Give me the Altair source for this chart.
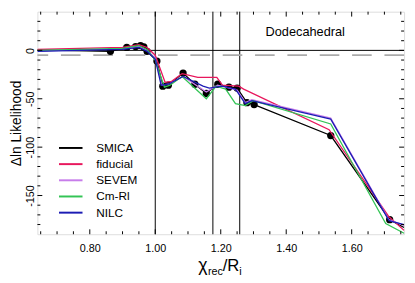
import altair as alt
import pandas as pd

FONT = "Liberation Sans"
W, H = 374, 227

series_names = ["SMICA", "fiducial", "SEVEM", "Cm-Rl", "NILC"]
series_colors = ["#000000", "#e8175d", "#c77dea", "#33c455", "#1c1cb4"]

smica_x = [0.64, 0.863, 0.913, 0.94, 0.955, 0.965, 0.975, 1.005, 1.023, 1.040, 1.085, 1.121, 1.156, 1.191, 1.225, 1.25, 1.28, 1.302, 1.536, 1.716, 1.76]
smica_y = [0.5, -1, 3, 4, 5, 3.5, -1, -11, -37, -36, -23.5, -35, -44.5, -35, -38, -39, -54, -56, -88, -175, -183]

fid_x = [0.64, 0.90, 0.95, 0.975, 1.0, 1.03, 1.05, 1.082, 1.13, 1.188, 1.205, 1.255, 1.27, 1.531, 1.714, 1.76]
fid_y = [1, 3, 6, 3, -5, -33, -32, -24, -28, -28, -36, -37, -40, -82, -172, -186]

sevem_x = [0.64, 0.90, 0.95, 0.975, 1.0, 1.02, 1.04, 1.085, 1.156, 1.19, 1.215, 1.25, 1.275, 1.295, 1.536, 1.714, 1.76]
sevem_y = [-0.5, 1.5, 4, 0, -8, -36, -35, -27, -43, -36, -38, -41, -54, -51, -70, -175, -181]

cmrl_x = [0.64, 0.90, 0.95, 0.975, 1.0, 1.028, 1.045, 1.082, 1.156, 1.186, 1.215, 1.245, 1.275, 1.299, 1.536, 1.704, 1.76]
cmrl_y = [0, 2, 5, 1, -10, -38, -36, -27, -50, -37, -40, -55, -57, -52, -76, -179, -189]

nilc_x = [0.64, 0.90, 0.95, 0.975, 1.0, 1.018, 1.04, 1.085, 1.146, 1.165, 1.205, 1.245, 1.275, 1.295, 1.536, 1.714, 1.76]
nilc_y = [-1, 1, 3, -1, -9, -36, -35, -27, -37, -39, -37, -40, -55, -52, -71, -176, -180]

dots_x = [0.863, 0.913, 0.94, 0.955, 0.965, 0.975, 1.005, 1.023, 1.040, 1.085, 1.121, 1.156, 1.191, 1.225, 1.25, 1.28, 1.302, 1.536, 1.716]
dots_y = [-1, 3, 4, 5, 3.5, -1, -11, -37, -36, -23.5, -35, -44.5, -35, -38, -39, -54, -56, -88, -175]

vlines_x = [1.0, 1.176, 1.258]
hline_y = [0]
dashed_y = [-5]

x_major = [0.8, 1.0, 1.2, 1.4, 1.6]
x_minor = [0.65, 0.70, 0.75, 0.85, 0.90, 0.95, 1.05, 1.10, 1.15, 1.25, 1.30, 1.35, 1.45, 1.50, 1.55, 1.65, 1.70, 1.75]
y_major = [-150, -100, -50, 0]
y_minor = [-180, -170, -160, -140, -130, -120, -110, -90, -80, -70, -60, -40, -30, -20, -10, 10, 20, 30]

xs = [smica_x, fid_x, sevem_x, cmrl_x, nilc_x]
ys = [smica_y, fid_y, sevem_y, cmrl_y, nilc_y]
rows = []
for name, sx, sy in zip(series_names, xs, ys):
    for i, (a, b) in enumerate(zip(sx, sy)):
        rows.append({"series": name, "x": a, "y": b, "i": i})
df = pd.DataFrame(rows)

xscale = alt.Scale(domain=[0.64, 1.76], nice=False, zero=False)
yscale = alt.Scale(domain=[-190, 40], nice=False, zero=False)

color = alt.Color(
    "series:N",
    scale=alt.Scale(domain=series_names, range=series_colors),
    legend=alt.Legend(
        title=None, orient="none", legendX=27, legendY=132,
        symbolType="M-2,0L2,0", symbolSize=144, symbolStrokeWidth=2,
        labelOffset=19, rowPadding=3.5, labelFont=FONT, labelFontSize=12,
        labelColor="black",
    ),
)

X = alt.X("x:Q", scale=xscale,
          axis=alt.Axis(values=x_major, format=".2f", ticks=False, domain=False, grid=False,
                        labelFont=FONT, labelFontSize=11, labelPadding=9, labelColor="black",
                        title=None))
Y = alt.Y("y:Q", scale=yscale,
          axis=alt.Axis(values=y_major, labelExpr="'' + datum.value", labelAngle=-90,
                        ticks=False, domain=False, grid=False, labelFont=FONT, labelFontSize=11,
                        labelPadding=2, labelColor="black", labelAlign="center", labelBaseline="bottom",
                        title="Δln Likelihood", titleFont=FONT, titleFontSize=14,
                        titleFontWeight="normal", titleColor="black", titleAngle=-90,
                        titleX=-17, titleY=H / 2, titleAlign="center", titleBaseline="alphabetic"))

layers = []

# reference lines
layers.append(alt.Chart(pd.DataFrame({"x": vlines_x})).mark_rule(color="black", strokeWidth=1).encode(
    x=alt.X("x:Q", scale=xscale)))
layers.append(alt.Chart(pd.DataFrame({"y": hline_y})).mark_rule(color="black", strokeWidth=1).encode(
    y=alt.Y("y:Q", scale=yscale)))
layers.append(alt.Chart(pd.DataFrame({"y": dashed_y})).mark_rule(color="#aaaaaa", strokeWidth=1.8, strokeDash=[20, 13]).encode(
    y=alt.Y("y:Q", scale=yscale)))

# dots
layers.append(alt.Chart(pd.DataFrame({"x": dots_x, "y": dots_y})).mark_circle(color="black", size=55, opacity=1).encode(
    x=alt.X("x:Q", scale=xscale), y=alt.Y("y:Q", scale=yscale)))

# series lines
for name in series_names:
    layers.append(alt.Chart(df).transform_filter(alt.datum.series == name).mark_line(strokeWidth=1.3, clip=True).encode(
        x=X, y=Y, color=color, order="i:Q"))

# ticks (inward, mirrored)
def xt(vals, length):
    d = pd.DataFrame({"x": vals})
    b = alt.Chart(d).mark_rule(color="black", strokeWidth=1).encode(
        x=alt.X("x:Q", scale=xscale), y=alt.value(H), y2=alt.value(H - length))
    t = alt.Chart(d).mark_rule(color="black", strokeWidth=1).encode(
        x=alt.X("x:Q", scale=xscale), y=alt.value(0), y2=alt.value(length))
    return [b, t]

def yt(vals, length):
    d = pd.DataFrame({"y": vals})
    l = alt.Chart(d).mark_rule(color="black", strokeWidth=1).encode(
        y=alt.Y("y:Q", scale=yscale), x=alt.value(0), x2=alt.value(length))
    r = alt.Chart(d).mark_rule(color="black", strokeWidth=1).encode(
        y=alt.Y("y:Q", scale=yscale), x=alt.value(W), x2=alt.value(W - length))
    return [l, r]

layers += xt(x_minor, 3) + xt(x_major, 5) + yt(y_minor, 3) + yt(y_major, 5)

# annotation
layers.append(alt.Chart(pd.DataFrame({"x": [1.337], "y": [19], "t": ["Dodecahedral"]})).mark_text(
    align="left", baseline="middle", font=FONT, fontSize=13, color="black").encode(
    x=alt.X("x:Q", scale=xscale), y=alt.Y("y:Q", scale=yscale), text="t:N"))

# x-axis title with subscripts
one = pd.DataFrame({"k": [0]})
def tx(txt, px, py, fs):
    return alt.Chart(one).mark_text(text=txt, align="left", baseline="alphabetic", font=FONT,
                                    fontSize=fs, color="black").encode(x=alt.value(px), y=alt.value(py))

layers += [tx("χ", 164, H + 38, 18), tx("rec", 174, H + 42, 11), tx("/R", 189, H + 38, 17), tx("i", 206, H + 42, 11)]

chart = alt.layer(*layers).properties(
    width=W, height=H, autosize="none",
    padding={"left": 30, "top": 1, "right": 3, "bottom": 47},
).configure_view(stroke="black", strokeWidth=1).configure(background="white")

chart.save("out.html", embed_options={"renderer": "svg", "actions": False})
